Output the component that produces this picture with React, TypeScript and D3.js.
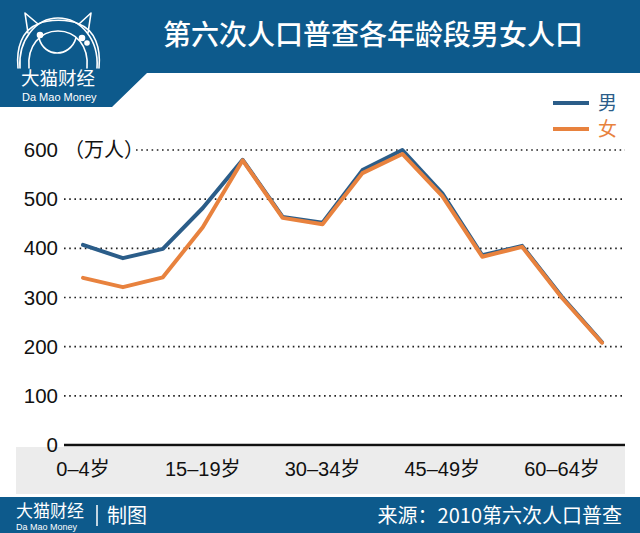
import React from "react";
import * as d3 from "d3";

const categories = ["0-4岁","5-9岁","10-14岁","15-19岁","20-24岁","25-29岁","30-34岁","35-39岁","40-44岁","45-49岁","50-54岁","55-59岁","60-64岁","65-69岁"];
const maleValues = [407, 380, 399, 482, 580, 464, 452, 559, 600, 512, 386, 405, 301, 209];
const femaleValues = [340, 321, 341, 443, 579, 462, 449, 553, 592, 506, 383, 403, 299, 208];
const yTicks = [0, 100, 200, 300, 400, 500, 600];
const xTickLabels = ["0–4岁", "15–19岁", "30–34岁", "45–49岁", "60–64岁"];
const xTickIndex = [0, 3, 6, 9, 12];

const HEADER = "#0d5a8c";
const BLUE = "#2b5d89";
const ORANGE = "#e8823e";
const CJK = "'Noto Sans CJK SC', 'Liberation Sans', sans-serif";
const NUM = "'Liberation Sans', 'Noto Sans CJK SC', sans-serif";

export default function App() {
  const x = d3.scalePoint<string>().domain(categories).range([83, 602]);
  const y = d3.scaleLinear().domain([0, 600]).range([445, 150]);
  const line = d3.line<number>().x((_, i) => x(categories[i]) as number).y((d) => y(d));

  return (
    <svg width={640} height={533} style={{ position: "absolute", left: 0, top: 0 }} xmlns="http://www.w3.org/2000/svg">
      <rect x={0} y={0} width={640} height={533} fill="#fff" />
      {/* header */}
      <path d="M0,0 H640 V73 H147 L112,107 H0 Z" fill={HEADER} />
      {/* logo */}
      <g fill="none" stroke="#fff" strokeWidth={1.6} strokeLinejoin="round" strokeLinecap="round">
        <path d="M18,68 C16,48 22,30 38,24 L25,13 L28,33" />
        <path d="M99,68 C101,48 95,30 79,24 L91,13 L88,33" />
        <path d="M38,24 C48,19 69,19 79,24" />
        <path d="M20,68 C18,40 36,18 58,18 C81,18 99,40 97,68" />
        <path d="M29,68 C27,46 40,31 58,31 C76,31 89,46 87,68" />
        <path d="M39,38 C44,58 70,58 76,38" />
        <circle cx={40} cy={35} r={2.5} fill="#fff" />
        <circle cx={82} cy={38} r={2.5} fill="#fff" />
        <circle cx={87} cy={43} r={2} fill="#fff" />
      </g>
      <text x={21} y={85} fill="#fff" fontSize={18.5} fontFamily={CJK}>大猫财经</text>
      <text x={22} y={101} fill="#fff" fontSize={11} fontFamily={NUM}>Da  Mao Money</text>
      <text x={163} y={45} fill="#fff" fontSize={28} fontFamily={CJK} fontWeight={500}>第六次人口普查各年龄段男女人口</text>

      {/* legend */}
      <line x1={553} x2={589} y1={103} y2={103} stroke={BLUE} strokeWidth={4} />
      <text x={598} y={110} fill={BLUE} fontSize={19} fontFamily={CJK}>男</text>
      <line x1={553} x2={589} y1={129} y2={129} stroke={ORANGE} strokeWidth={4} />
      <text x={598} y={136} fill={ORANGE} fontSize={19} fontFamily={CJK}>女</text>

      {/* x band */}
      <rect x={16} y={447} width={609} height={47} fill="#ececec" />

      {/* grid + y ticks */}
      {yTicks.map((t) => (
        <g key={t}>
          {t > 0 && (
            <line x1={t === 600 ? 136 : 64} x2={625} y1={y(t)} y2={y(t)} stroke="#222" strokeWidth={1.6} strokeDasharray="1.6 3.6" />
          )}
          <text x={58} y={y(t) + 7} textAnchor="end" fontSize={20.5} fontFamily={NUM} fill="#111">{t}</text>
        </g>
      ))}
      <text x={64} y={y(600) + 7} fontSize={20} fontFamily={CJK} fill="#111">（万人）</text>
      <line x1={64} x2={625} y1={y(0)} y2={y(0)} stroke="#111" strokeWidth={2.5} />

      {/* x labels */}
      {xTickIndex.map((idx, k) => (
        <text key={idx} x={x(categories[idx])} y={476} textAnchor="middle" fontSize={20} fontFamily={NUM} fill="#111">{xTickLabels[k]}</text>
      ))}

      {/* lines */}
      <path d={line(maleValues) || ""} fill="none" stroke={BLUE} strokeWidth={4} strokeLinejoin="round" strokeLinecap="round" />
      <path d={line(femaleValues) || ""} fill="none" stroke={ORANGE} strokeWidth={4} strokeLinejoin="round" strokeLinecap="round" />

      {/* footer */}
      <rect x={0} y={497} width={640} height={36} fill={HEADER} />
      <text x={16} y={517} fill="#fff" fontSize={17} fontFamily={CJK}>大猫财经</text>
      <text x={16} y={530} fill="#fff" fontSize={9} fontFamily={NUM}>Da  Mao Money</text>
      <line x1={97} x2={97} y1={505} y2={526} stroke="#fff" strokeWidth={1.5} />
      <text x={107} y={523} fill="#fff" fontSize={20} fontFamily={CJK}>制图</text>
      <text x={622} y={523} textAnchor="end" fill="#fff" fontSize={20} fontFamily={CJK}>来源：2010第六次人口普查</text>
    </svg>
  );
}
